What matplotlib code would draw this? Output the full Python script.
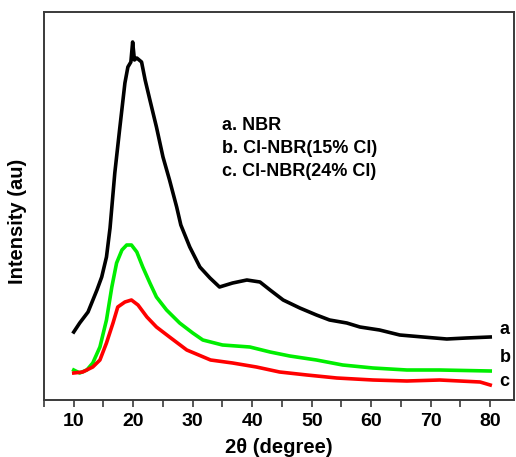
import matplotlib
matplotlib.use('Agg')
import matplotlib.pyplot as plt
from matplotlib.ticker import MultipleLocator

plt.rcParams['font.family'] = ['Liberation Sans', 'DejaVu Sans']
plt.rcParams['font.weight'] = 'bold'

# XRD patterns (2theta in degrees, intensity in arbitrary units)
tt_a = [10, 11, 12.4, 13.9, 14.7, 15.5, 16.1, 16.9, 17.7, 18.6, 19.1, 19.6, 19.9, 20.2,
        20.6, 21.4, 22, 22.8, 23.9, 25, 26.1, 27.3, 28, 29.5, 31.2, 32.9, 34.5, 36.7,
        39.1, 41.3, 43, 45.2, 48, 50.8, 53, 55.9, 58.1, 61.4, 64.8, 68.7, 72.7, 76, 80]
int_a = [68, 77, 88, 110, 123, 143, 172, 227, 270, 317, 333, 338, 358, 340,
         342, 338, 320, 300, 273, 243, 220, 193, 175, 153, 133, 122, 113, 117,
         120, 118, 110, 100, 92, 85, 80, 77, 73, 70, 65, 63, 61, 62, 63]

tt_b = [10, 11, 12.2, 13.2, 14.4, 15.5, 16.4, 17.2, 18.1, 18.9, 19.7, 20.6, 21.6, 22.8,
        23.9, 25.6, 27.8, 30, 31.7, 35, 39.6, 43, 46.3, 50.8, 55.2, 60.3, 66, 71.5, 80]
int_b = [30, 27, 30, 37, 53, 80, 113, 137, 150, 155, 155, 148, 133, 117,
         103, 90, 77, 67, 60, 55, 53, 48, 44, 40, 35, 32, 30, 30, 29]

tt_c = [10, 11.5, 13.2, 14.4, 15.5, 16.6, 17.4, 18.6, 19.7, 20.8, 22.3, 23.9, 26.1, 29,
        31, 33, 36.7, 40.7, 44.6, 49.2, 54.2, 60.3, 66, 71.5, 78.3, 80]
int_c = [27, 28, 33, 40, 57, 77, 93, 98, 100, 95, 83, 73, 63, 50,
         45, 40, 37, 33, 28, 25, 22, 20, 19, 20, 18, 15]

legend_lines = ['a. NBR', 'b. Cl-NBR(15% Cl)', 'c. Cl-NBR(24% Cl)']

fig = plt.figure(figsize=(5.16, 4.57), dpi=100)
ax = fig.add_axes([44/516, 57/457, 470/516, 388/457])

ax.plot(tt_a, int_a, color='black', lw=2.6)
ax.plot(tt_b, int_b, color='#00ee00', lw=2.6)
ax.plot(tt_c, int_c, color='#ff0000', lw=2.6)

ax.set_xlim(5, 84)
ax.set_ylim(0, 388)

for s in ax.spines.values():
    s.set_color('#3a3a3a')
    s.set_linewidth(1.4)

ax.xaxis.set_major_locator(MultipleLocator(10))
ax.xaxis.set_minor_locator(MultipleLocator(5))
ax.tick_params(axis='x', which='both', direction='out', length=5, width=1.2,
               labelsize=14, pad=4, color='#3a3a3a')
ax.set_yticks([])
for lab in ax.get_xticklabels():
    lab.set_fontweight('bold')

ax.set_xlabel('2\u03b8 (degree)', fontsize=14.5, fontweight='bold', labelpad=6)
ax.set_ylabel('Intensity (au)', fontsize=14.5, fontweight='bold')
ax.yaxis.set_label_coords(-0.036, 0.461)

for i, txt in enumerate(legend_lines):
    ax.text(34.9, 275 - i * 23.5, txt, fontsize=13, fontweight='bold', va='center')

for lab, y in zip(['a', 'b', 'c'], [70, 42, 18]):
    ax.text(81.6, y, lab, fontsize=13, fontweight='bold', va='center', clip_on=False)

fig.savefig('out.png', dpi=100)
